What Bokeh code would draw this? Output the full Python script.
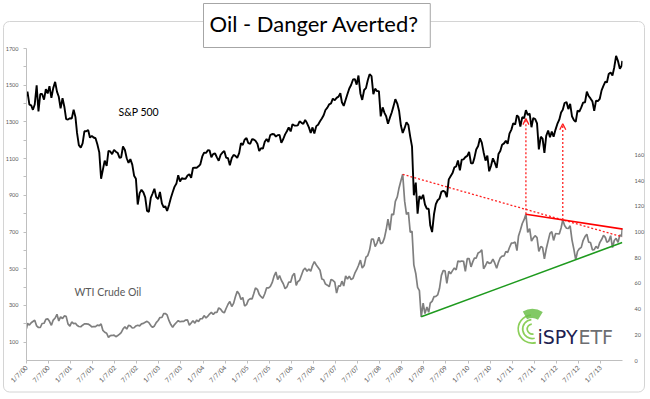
import datetime as dt
import calendar
import math
from bokeh.plotting import figure
from bokeh.models import Range1d, LinearAxis, FixedTicker, Label, Arrow, OpenHead
from bokeh.embed import file_html
from bokeh.resources import INLINE

# ---------------- data ----------------
x_tick_labels = ["1/7/00", "7/7/00", "1/7/01", "7/7/01", "1/7/02", "7/7/02", "1/7/03", "7/7/03",
                 "1/7/04", "7/7/04", "1/7/05", "7/7/05", "1/7/06", "7/7/06", "1/7/07", "7/7/07",
                 "1/7/08", "7/7/08", "1/7/09", "7/7/09", "1/7/10", "7/7/10", "1/7/11", "7/7/11",
                 "1/7/12", "7/7/12", "1/7/13"]
left_ticks = [100, 200, 300, 400, 500, 600, 700, 800, 900, 1000, 1100, 1200, 1300, 1400, 1500, 1600, 1700]
left_tick_labels = ["100", "", "300", "", "500", "", "700", "", "900", "", "1100", "", "1300", "", "1500", "", "1700"]
right_ticks = [0, 20, 40, 60, 80, 100, 120, 140, 160]

first_date = "2000-01-07"
last_date = "2013-07-05"

# S&P 500, two readings per month (mid-month, month-end), Jan 2000 .. Jun 2013
sp500_first = 1441
sp500 = [
    1465, 1394, 1390, 1366, 1395, 1499, 1357, 1452, 1452, 1421, 1479, 1455, 1495, 1431, 1484, 1518, 1465, 1437, 1374, 1429, 1383, 1315, 1313, 1320,
    1318, 1366, 1326, 1240, 1173, 1160, 1183, 1249, 1249, 1256, 1214, 1224, 1215, 1211, 1178, 1134, 990, 1041, 1089, 1060, 1142, 1139, 1124, 1148,
    1138, 1130, 1104, 1107, 1166, 1147, 1102, 1077, 1097, 1067, 1007, 990, 850, 912, 930, 916, 889, 815, 810, 886, 910, 936, 890, 880,
    918, 856, 834, 841, 815, 848, 885, 917, 946, 964, 1010, 975, 994, 990, 990, 1008, 1015, 996, 1049, 1051, 1050, 1058, 1069, 1112,
    1133, 1131, 1146, 1145, 1107, 1126, 1128, 1107, 1088, 1121, 1133, 1141, 1106, 1102, 1064, 1104, 1120, 1115, 1104, 1130, 1184, 1174, 1203, 1212,
    1184, 1181, 1206, 1204, 1197, 1181, 1142, 1157, 1154, 1192, 1207, 1191, 1228, 1234, 1233, 1220, 1228, 1229, 1186, 1207, 1232, 1249, 1270, 1248,
    1287, 1280, 1280, 1281, 1303, 1295, 1289, 1311, 1294, 1270, 1240, 1270, 1237, 1277, 1285, 1304, 1319, 1336, 1365, 1378, 1396, 1401, 1427, 1418,
    1431, 1438, 1456, 1407, 1387, 1421, 1452, 1482, 1501, 1531, 1533, 1503, 1553, 1455, 1420, 1474, 1484, 1527, 1560, 1549, 1451, 1481, 1468, 1468,
    1330, 1379, 1349, 1331, 1290, 1323, 1351, 1386, 1424, 1400, 1360, 1280, 1240, 1267, 1298, 1283, 1220, 1165, 900, 969, 800, 896, 880, 903,
    850, 826, 827, 735, 700, 798, 852, 873, 882, 919, 924, 919, 890, 987, 1004, 1021, 1052, 1057, 1090, 1036, 1094, 1096, 1108, 1115,
    1136, 1074, 1075, 1104, 1150, 1169, 1211, 1187, 1135, 1089, 1116, 1031, 1060, 1102, 1079, 1049, 1125, 1141, 1176, 1183, 1197, 1181, 1236, 1258,
    1293, 1286, 1336, 1327, 1275, 1326, 1320, 1364, 1338, 1345, 1271, 1321, 1316, 1292, 1150, 1219, 1209, 1131, 1224, 1253, 1216, 1247, 1219, 1258,
    1289, 1312, 1351, 1366, 1403, 1408, 1370, 1398, 1331, 1310, 1300, 1362, 1356, 1379, 1405, 1407, 1465, 1441, 1428, 1412, 1360, 1416, 1413, 1426,
    1472, 1498, 1520, 1515, 1561, 1569, 1553, 1598, 1660, 1631, 1590, 1606,
]
sp500_last = 1632

# WTI crude oil ($/bbl), same sampling
wti_first = 24.8
wti = [
    29.0, 27.6, 29.4, 30.4, 31.4, 26.9, 25.7, 25.7, 28.8, 29.0, 32.0, 32.5, 30.5, 27.4, 31.5, 33.1, 36.0, 30.8, 34.0, 32.7, 34.7, 34.4, 28.5, 26.8,
    30.0, 28.7, 29.0, 27.4, 26.5, 26.3, 27.5, 28.5, 28.5, 28.4, 27.5, 26.2, 26.5, 26.4, 27.5, 27.2, 28.5, 23.4, 22.0, 21.2, 18.0, 19.4, 19.5, 19.8,
    18.5, 19.5, 20.5, 21.7, 24.5, 26.3, 24.5, 27.3, 27.0, 25.3, 25.5, 26.9, 27.5, 27.0, 28.5, 28.9, 29.8, 30.5, 29.5, 27.2, 25.8, 26.9, 29.5, 31.2,
    33.5, 33.5, 36.5, 36.6, 35.5, 31.0, 28.0, 25.8, 28.0, 29.6, 31.0, 30.2, 30.5, 30.5, 31.5, 31.6, 27.5, 29.2, 31.0, 29.1, 31.5, 30.4, 32.5, 32.5,
    35.0, 33.1, 34.5, 36.2, 37.5, 35.8, 37.5, 37.4, 41.0, 39.9, 38.0, 37.1, 40.5, 43.8, 46.0, 42.1, 44.5, 49.6, 54.0, 51.8, 47.5, 49.1, 42.5, 43.5,
    47.0, 48.2, 48.0, 51.8, 56.5, 55.4, 51.5, 49.7, 48.5, 52.0, 56.5, 56.5, 57.5, 60.6, 65.5, 68.9, 63.0, 66.2, 62.5, 59.8, 56.0, 57.3, 61.0, 61.0,
    66.0, 67.9, 58.5, 61.4, 62.5, 66.6, 70.5, 71.9, 69.5, 71.3, 69.5, 74.0, 77.0, 74.4, 72.5, 70.3, 63.5, 62.9, 59.5, 58.7, 57.5, 63.1, 62.5, 61.1,
    52.5, 58.1, 58.0, 61.8, 58.0, 65.9, 63.5, 65.7, 63.0, 64.0, 68.0, 70.7, 74.0, 78.2, 72.0, 74.0, 80.5, 81.7, 86.0, 94.5, 94.5, 88.7, 91.5, 96.0,
    91.0, 91.8, 95.5, 101.8, 110.0, 101.6, 114.0, 113.5, 124.0, 127.4, 134.6, 140.0, 145.0, 124.1, 113.8, 115.5, 100.0, 100.6, 74.5, 67.8, 57.0, 54.4, 34.0, 44.6,
    36.5, 41.7, 37.5, 44.8, 46.0, 49.7, 50.0, 51.1, 56.0, 66.3, 70.0, 69.9, 60.0, 69.5, 67.5, 70.0, 72.0, 70.6, 77.5, 77.0, 77.5, 77.3, 69.5, 79.4,
    79.4, 72.9, 77.0, 79.7, 79.8, 83.8, 84.5, 86.2, 71.5, 74.0, 77.0, 75.6, 76.0, 78.9, 76.0, 71.9, 76.5, 80.0, 81.3, 81.4, 84.9, 84.1, 88.0, 91.4,
    91.5, 92.2, 85.6, 97.0, 101.4, 106.7, 109.7, 113.9, 99.7, 102.7, 93.0, 95.4, 97.2, 95.7, 85.0, 88.8, 88.0, 79.2, 86.8, 93.2, 99.0, 100.4, 93.5, 98.8,
    98.7, 98.5, 103.2, 109.5, 105.1, 103.0, 102.8, 104.9, 94.0, 86.5, 78.5, 85.0, 87.1, 88.1, 93.4, 96.5, 98.3, 92.2, 91.9, 86.2, 86.3, 88.9, 87.2, 91.8,
    94.2, 97.5, 95.9, 92.1, 93.0, 97.2, 88.0, 93.5, 95.2, 92.0, 97.8, 96.6,
]
wti_last = 103.2

# S&P level where the red arrows stop
arrow_tip_sp = [1318, 1290]

# ---------------- build x positions ----------------
ORIGIN = dt.date(2000, 1, 7)


def d2x(d):
    return (d - ORIGIN).days


def parse_iso(s):
    return dt.date.fromisoformat(s)


dates = [parse_iso(first_date)]
for yy in range(2000, 2014):
    for mm in range(1, 13):
        if yy == 2013 and mm > 6:
            break
        dates.append(dt.date(yy, mm, 15))
        dates.append(dt.date(yy, mm, calendar.monthrange(yy, mm)[1]))
dates.append(parse_iso(last_date))

sp_vals = [sp500_first] + sp500 + [sp500_last]
oil_vals = [wti_first] + wti + [wti_last]
assert len(sp_vals) == len(dates) == len(oil_vals), (len(sp_vals), len(dates), len(oil_vals))
xs = [d2x(d) for d in dates]


def tick_date(s):
    m, d, y = (int(v) for v in s.split("/"))
    return dt.date(2000 + y, m, d)


x_ticks = [d2x(tick_date(s)) for s in x_tick_labels]
X_END = d2x(dt.date(2013, 7, 7))

SP_MAX = 1700
OIL_MAX = 243

W, H = 650, 399
border_svg = ("url(\"data:image/svg+xml;utf8,<svg xmlns='http://www.w3.org/2000/svg' width='650' height='399'>"
              "<rect x='3.5' y='21.5' width='641' height='370.5' rx='6' ry='6' fill='none' "
              "stroke='%23d4d4d4' stroke-width='1'/></svg>\")")

# ---------------- figure ----------------
p = figure(width=W, height=H, output_backend="svg", toolbar_location=None,
           title="Oil - Danger Averted?",
           x_range=Range1d(0, X_END), y_range=Range1d(0, SP_MAX),
           min_border_left=26, min_border_right=28, min_border_top=40, min_border_bottom=39,
           background_fill_color=None, border_fill_color=None, outline_line_color=None)
p.styles = {"background-image": border_svg, "background-repeat": "no-repeat"}
p.extra_y_ranges = {"oil": Range1d(0, OIL_MAX)}
p.xgrid.visible = False
p.ygrid.visible = False

FONT = "Lato"
t = p.title
t.align = "left"
t.offset = 177
t.standoff = 2
t.text_font = FONT
t.text_font_size = "22px"
t.text_font_style = "normal"
t.text_color = "black"
t.background_fill_color = "white"
t.border_line_color = "#a6a6a6"
t.border_line_width = 1
t.padding = (6, 11, 6, 11)

AX_COL = "#bfbfbf"
LBL_COL = "#595959"

xa = p.xaxis[0]
xa.ticker = FixedTicker(ticks=x_ticks)
xa.major_label_overrides = {tk: s for tk, s in zip(x_ticks, x_tick_labels)}
xa.major_label_orientation = math.pi / 4
xa.major_label_text_font_size = "6.5px"
xa.major_label_text_font = FONT
xa.major_label_text_color = LBL_COL
xa.axis_line_color = AX_COL
xa.major_tick_line_color = AX_COL
xa.major_tick_out = 3
xa.major_tick_in = 0
xa.minor_tick_line_color = None
xa.major_label_standoff = 3

ya = p.yaxis[0]
ya.ticker = FixedTicker(ticks=left_ticks)
ya.major_label_overrides = {tk: s for tk, s in zip(left_ticks, left_tick_labels)}
ya.major_label_text_font_size = "5.5px"
ya.major_label_text_font = FONT
ya.major_label_text_color = LBL_COL
ya.axis_line_color = AX_COL
ya.major_tick_line_color = AX_COL
ya.major_tick_out = 3
ya.major_tick_in = 0
ya.minor_tick_line_color = None
ya.major_label_standoff = 5

ra = LinearAxis(y_range_name="oil", ticker=FixedTicker(ticks=right_ticks))
ra.major_label_text_font_size = "5.5px"
ra.major_label_text_font = FONT
ra.major_label_text_color = LBL_COL
ra.axis_line_color = None
ra.major_tick_line_color = None
ra.minor_tick_line_color = None
ra.major_label_standoff = 6
p.add_layout(ra, "right")

# series
p.line(xs, oil_vals, y_range_name="oil", line_color="#7f7f7f", line_width=1.7)
p.line(xs, sp_vals, line_color="black", line_width=1.9)


# ---------------- trend annotations from data extremes ----------------
def extreme(lo, hi, fn):
    lo_x, hi_x = d2x(parse_iso(lo)), d2x(parse_iso(hi))
    cand = [(v, x) for x, v in zip(xs, oil_vals) if lo_x <= x <= hi_x]
    v, x = fn(cand)
    return x, v


pk08 = extreme("2008-01-01", "2008-12-31", max)
pk11 = extreme("2011-01-01", "2011-12-31", max)
pk12 = extreme("2012-01-01", "2012-06-01", max)
tr08 = extreme("2008-11-01", "2009-06-30", min)
tr12 = extreme("2012-03-01", "2012-12-31", min)
x_last = xs[-1]


def extend(a, b, xe):
    slope = (b[1] - a[1]) / (b[0] - a[0])
    return [a[0], xe], [a[1], b[1] + slope * (xe - b[0])]


lx, ly = extend(pk08, pk12, x_last)
p.line(lx, ly, y_range_name="oil", line_color="#ff2020", line_width=1.3, line_dash="2 2")
lx, ly = extend(pk11, pk12, x_last + 12)
p.line(lx, ly, y_range_name="oil", line_color="#ff0000", line_width=1.6)
lx, ly = extend(tr08, tr12, x_last)
p.line(lx, ly, y_range_name="oil", line_color="#1e9a1e", line_width=1.6)

for (ax_, av_), tip in zip([pk11, pk12], arrow_tip_sp):
    p.add_layout(Arrow(x_start=ax_, y_start=av_ * SP_MAX / OIL_MAX, x_end=ax_, y_end=tip,
                       line_color="#ff2020", line_width=1.3, line_dash="2 2",
                       end=OpenHead(size=6, line_color="#ff2020", line_width=1.3)))

# ---------------- text ----------------
p.add_layout(Label(x=118, y=111, x_units="canvas", y_units="canvas", text="S&P 500",
                   text_align="left", text_baseline="middle", text_font=FONT, text_font_size="10.5px",
                   text_color="black"))
p.add_layout(Label(x=74, y=291, x_units="canvas", y_units="canvas", text="WTI Crude Oil",
                   text_align="left", text_baseline="middle", text_font=FONT, text_font_size="10.5px",
                   text_color="#595959"))

# ---------------- logo ----------------
LOGO_X = 4183
LOGO_Y = 24.5
p.arc(x=[LOGO_X] * 3, y=[LOGO_Y] * 3, radius=[5, 9.5, 14], radius_units="screen",
      start_angle=math.radians(95), end_angle=math.radians(285), y_range_name="oil",
      line_color="#8ccf5a", line_width=1.7)
p.annular_wedge(x=[LOGO_X], y=[LOGO_Y], inner_radius=11, outer_radius=20, inner_radius_units="screen",
                outer_radius_units="screen", start_angle=math.radians(58), end_angle=math.radians(118),
                y_range_name="oil", fill_color="#6cc04a", fill_alpha=0.85, line_color=None)
p.add_layout(Label(x=537, y=336, x_units="canvas", y_units="canvas", text="iSPY", text_align="left",
                   text_baseline="alphabetic", text_font="DejaVu Sans", text_font_size="19px",
                   text_color="#1d2150"))
p.add_layout(Label(x=578, y=336, x_units="canvas", y_units="canvas", text="ETF", text_align="left",
                   text_baseline="alphabetic", text_font="DejaVu Sans", text_font_size="19px",
                   text_color="#6d6e71"))

open("out.html", "w").write(file_html(p, INLINE))
